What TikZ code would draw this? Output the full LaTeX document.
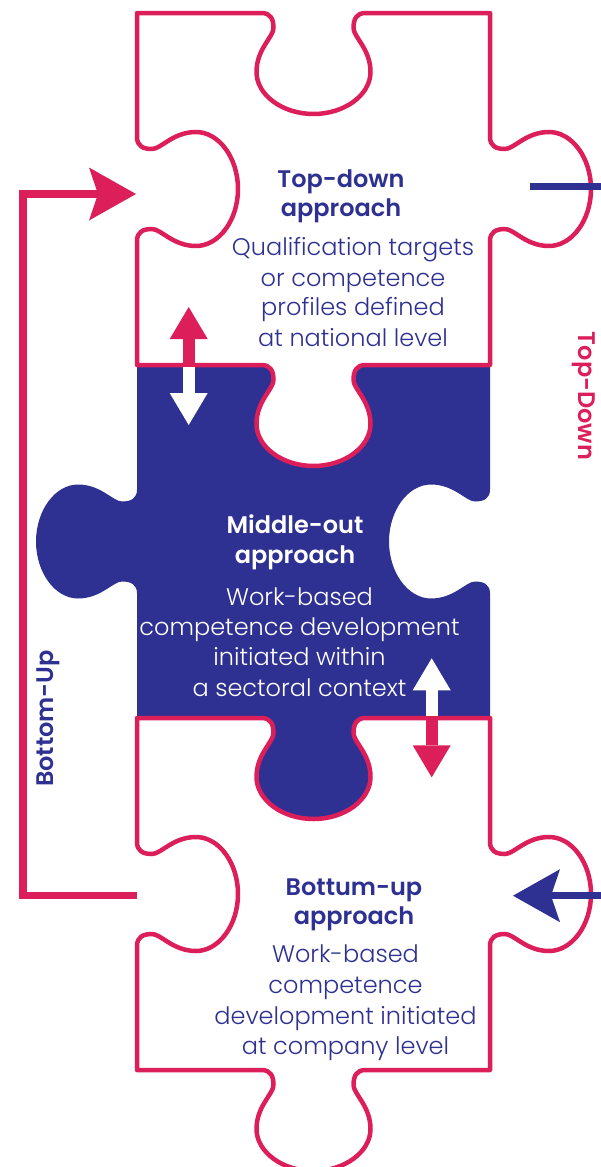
\documentclass[tikz,border=0pt]{standalone}
\usepackage{fontspec}
\setmainfont{Poppins}[UprightFont=* Light, BoldFont=* SemiBold]
\usetikzlibrary{arrows.meta}
\definecolor{pk}{HTML}{DC1E5A}
\definecolor{nv}{HTML}{2E3192}
% horizontal edge feature: #1 centre x, #2 edge y, #3 direction (+1 left->right), #4 side (+1 towards +y)
\newcommand\htab[4]{%
 -- ({#1-(#3)*52},{#2})
 .. controls ({#1-(#3)*43},{#2}) and ({#1-(#3)*40},{#2+(#4)*6}) .. ({#1-(#3)*40},{#2+(#4)*15})
 .. controls ({#1-(#3)*40},{#2+(#4)*24}) and ({#1-(#3)*57},{#2+(#4)*36}) .. ({#1-(#3)*57},{#2+(#4)*59})
 .. controls ({#1-(#3)*57},{#2+(#4)*82}) and ({#1-(#3)*31},{#2+(#4)*101}) .. ({#1},{#2+(#4)*101})
 .. controls ({#1+(#3)*31},{#2+(#4)*101}) and ({#1+(#3)*57},{#2+(#4)*82}) .. ({#1+(#3)*57},{#2+(#4)*59})
 .. controls ({#1+(#3)*57},{#2+(#4)*36}) and ({#1+(#3)*40},{#2+(#4)*24}) .. ({#1+(#3)*40},{#2+(#4)*15})
 .. controls ({#1+(#3)*40},{#2+(#4)*6}) and ({#1+(#3)*43},{#2}) .. ({#1+(#3)*52},{#2})}
% vertical edge feature: #1 centre y, #2 edge x, #3 direction (+1 downwards), #4 side (+1 towards +x)
\newcommand\vtab[4]{%
 -- ({#2},{#1-(#3)*52})
 .. controls ({#2},{#1-(#3)*43}) and ({#2+(#4)*6},{#1-(#3)*40}) .. ({#2+(#4)*15},{#1-(#3)*40})
 .. controls ({#2+(#4)*24},{#1-(#3)*40}) and ({#2+(#4)*36},{#1-(#3)*57}) .. ({#2+(#4)*59},{#1-(#3)*57})
 .. controls ({#2+(#4)*82},{#1-(#3)*57}) and ({#2+(#4)*101},{#1-(#3)*31}) .. ({#2+(#4)*101},{#1})
 .. controls ({#2+(#4)*101},{#1+(#3)*31}) and ({#2+(#4)*82},{#1+(#3)*57}) .. ({#2+(#4)*59},{#1+(#3)*57})
 .. controls ({#2+(#4)*36},{#1+(#3)*57}) and ({#2+(#4)*24},{#1+(#3)*40}) .. ({#2+(#4)*15},{#1+(#3)*40})
 .. controls ({#2+(#4)*6},{#1+(#3)*40}) and ({#2},{#1+(#3)*43}) .. ({#2},{#1+(#3)*52})}
\begin{document}
\begin{tikzpicture}[x=1pt,y=-1pt,
  outline/.style={draw=pk,line width=4.5pt,line join=round},
  title/.style={anchor=base,inner sep=0pt,font=\fontsize{24}{30}\selectfont\bfseries,text=nv},
  body/.style={anchor=base,inner sep=0pt,font=\fontsize{24}{30}\selectfont,text=nv},
  wtitle/.style={title,text=white},
  wbody/.style={body,text=white},
  sidelabel/.style={inner sep=0pt,font=\fontsize{24}{30}\selectfont\bfseries},
  bigstealth/.style={-{Stealth[length=47pt,width=53pt,inset=9pt,line width=0pt 0 0]}},
  tri/.style={-{Triangle[length=32pt,width=38pt,line width=0pt 0 0]}},
  flowline/.style={line width=7.3pt,line cap=butt},
  shaft/.style={line width=12pt,line cap=butt}]
\useasboundingbox (0,0) rectangle (601,1167);
\fill[white] (0,0) rectangle (601,1167);

% middle piece (navy)
\fill[nv] (137,365) \htab{313.5}{365}{1}{1} -- (490,365) \vtab{541.5}{490}{1}{-1}
  -- (490,718) \htab{313.5}{718}{-1}{1} -- (137,718) \vtab{541.5}{137}{-1}{-1} -- cycle;

% top piece
\draw[outline] (137,13) \htab{313.5}{13}{1}{1} -- (490,13) \vtab{189}{490}{1}{1}
  -- (490,365) \htab{313.5}{365}{-1}{1} -- (137,365) \vtab{189}{137}{-1}{1} -- cycle;

% bottom piece
\draw[outline] (137,718) \htab{313.5}{718}{1}{1} -- (490,718) \vtab{894}{490}{1}{1}
  -- (490,1070) \htab{313.5}{1070}{-1}{1} -- (137,1070) \vtab{894}{137}{-1}{1} -- cycle;

% texts top piece
\node[title] (t1) at (341,187) {Top-down};
\node[title] (t2) at (341,216.5) {approach};
\node[body] (t3) at (353,255) {Qualification targets};
\node[body] (t4) at (353,286) {or competence};
\node[body] (t5) at (353,315.5) {profiles defined};
\node[body] (t6) at (353,346.5) {at national level};

% texts middle piece
\node[wtitle] (m1) at (295,533.3) {Middle-out};
\node[wtitle] (m2) at (295,563.3) {approach};
\node[wbody] (m3) at (299.5,605) {Work-based};
\node[wbody] (m4) at (299.5,635.5) {competence development};
\node[wbody] (m5) at (299.5,665.5) {initiated within};
\node[wbody] (m6) at (299.5,696.5) {a sectoral context};

% texts bottom piece
\node[title] (b1) at (354,895) {Bottum-up};
\node[title] (b2) at (354,924) {approach};
\node[body] (b3) at (345.5,962.3) {Work-based};
\node[body] (b4) at (345.5,993.3) {competence};
\node[body] (b5) at (345.5,1024) {development initiated};
\node[body] (b6) at (345.5,1054.3) {at company level};

% side labels
\node[sidelabel,text=nv,rotate=90] (lbu) at (48.5,718.5) {Bottom-Up};
\node[sidelabel,text=pk,rotate=-90] (ltd) at (583.5,396) {Top-Down};

% bottom-up loop on the left
\coordinate (bpin) at (137,895.5);
\coordinate (tpin) at (136,194);
\draw[flowline,draw=pk,bigstealth] (bpin) -- ++(-114,0) |- (tpin);

% top-down lines on the right
\coordinate (tdout) at (529.7,186.3);
\coordinate (tdedge) at (601,186.3);
\draw[flowline,draw=nv] (tdout) -- (tdedge);
\coordinate (buedge) at (601,895.7);
\coordinate (buin) at (513,895.7);
\draw[flowline,draw=nv,bigstealth] (buedge) -- (buin);

% double arrow between top and middle
\coordinate (da1) at (188.7,366.5);
\coordinate (da1u) at (188.7,307);
\coordinate (da1d) at (188.7,425);
\draw[shaft,draw=pk,tri] (da1) -- (da1u);
\draw[shaft,draw=white,tri] (da1) -- (da1d);

% double arrow between middle and bottom
\coordinate (da2) at (431.7,716);
\coordinate (da2u) at (431.7,658.3);
\coordinate (da2d) at (431.7,777.3);
\draw[shaft,draw=white,tri] (da2) -- (da2u);
\draw[shaft,draw=pk,tri] (da2) -- (da2d);
\end{tikzpicture}
\end{document}
